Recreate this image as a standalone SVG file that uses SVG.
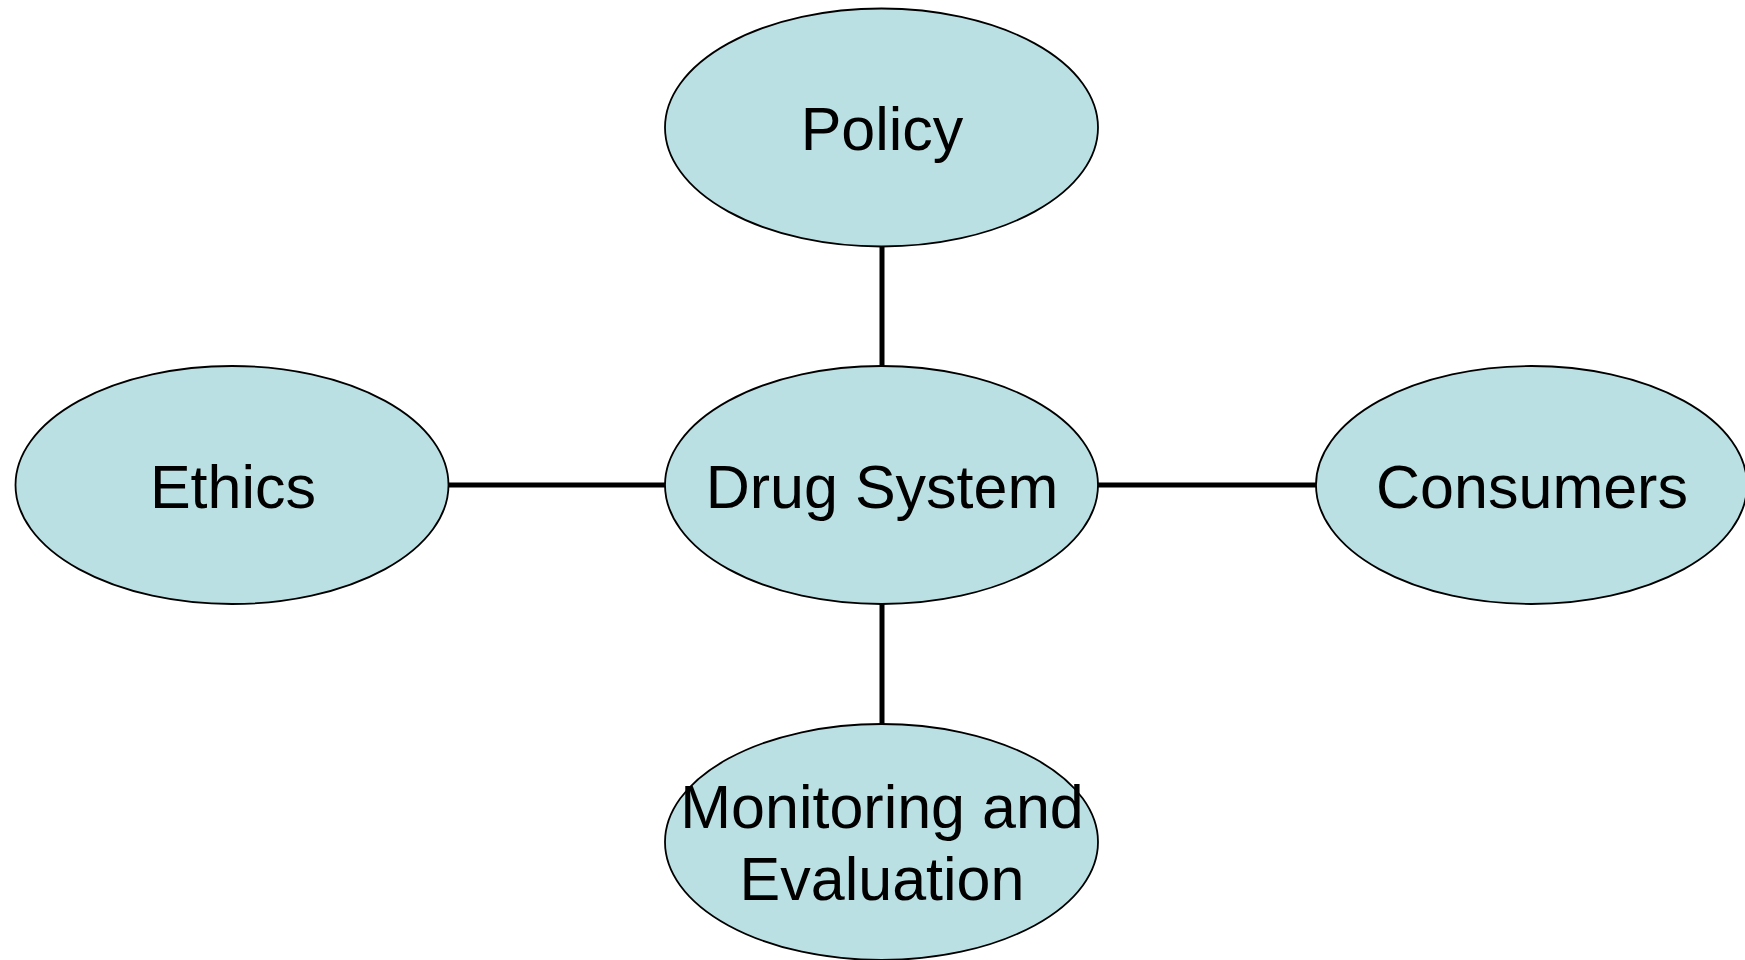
<svg xmlns="http://www.w3.org/2000/svg" width="1745" height="960" viewBox="0 0 1745 960">
<style>
.node ellipse{fill:#BBE0E3;stroke:#000;stroke-width:1.8}
.node text{font-family:"Liberation Sans",Arial,sans-serif;font-size:61px;fill:#000;text-anchor:middle}
.conn line{stroke:#000;stroke-width:5}
</style>
<rect width="1745" height="960" fill="#fff"/>
<g id="connectors" class="conn">
<line x1="882" y1="246" x2="882" y2="366"/>
<line x1="448" y1="485" x2="665" y2="485"/>
<line x1="1098" y1="485" x2="1316" y2="485"/>
<line x1="882" y1="604" x2="882" y2="724"/>
</g>
<g id="policy" class="node">
<ellipse cx="881.5" cy="127.5" rx="216.5" ry="119"/>
<text x="882" y="150">Policy</text>
</g>
<g id="drug-system" class="node">
<ellipse cx="881.5" cy="485" rx="216.5" ry="119"/>
<text x="882" y="508">Drug System</text>
</g>
<g id="ethics" class="node">
<ellipse cx="232" cy="485" rx="216.5" ry="119"/>
<text x="233" y="508">Ethics</text>
</g>
<g id="consumers" class="node">
<ellipse cx="1531.5" cy="485" rx="215.5" ry="119"/>
<text x="1532" y="508">Consumers</text>
</g>
<g id="monitoring" class="node">
<ellipse cx="881.5" cy="842" rx="216.5" ry="118"/>
<text x="882" y="828">Monitoring and</text>
<text x="882" y="900">Evaluation</text>
</g>
</svg>
